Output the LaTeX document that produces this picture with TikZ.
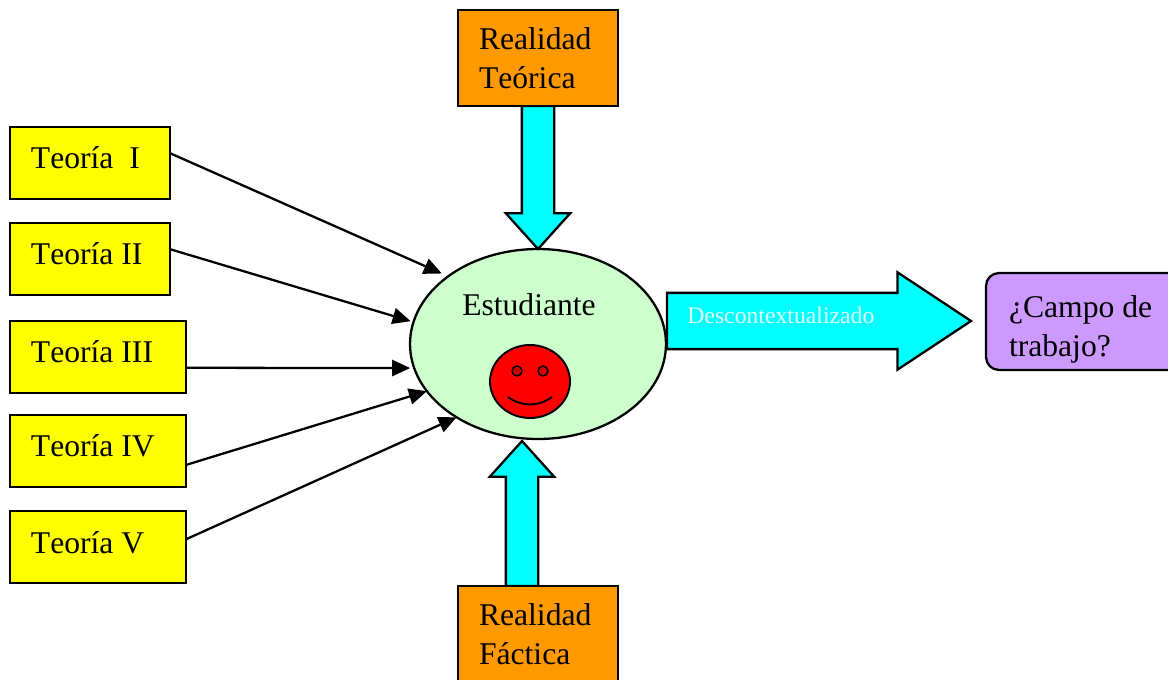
\documentclass[tikz,border=0pt]{standalone}
\usepackage{fontspec}
\setmainfont[Kerning=Off]{Liberation Serif}
\usetikzlibrary{shapes.geometric,shapes.arrows,arrows.meta}
\definecolor{naranja}{HTML}{FF9900}
\definecolor{verdeclaro}{HTML}{CCFFCC}
\definecolor{lila}{HTML}{CC99FF}
\definecolor{rojocara}{HTML}{FF0000}
\definecolor{rojoojo}{HTML}{CC0000}
\definecolor{amarillo}{HTML}{FFFF00}
\definecolor{celeste}{HTML}{00FFFF}
\definecolor{casiblanco}{HTML}{DDFFFF}
\tikzset{
    caja/.style={draw=black, line width=1.3pt, inner ysep=0pt, inner xsep=0.42cm, outer sep=0pt, align=flush left, anchor=north west, font=\fontsize{18}{22.2}\selectfont},
    teoria/.style={caja, fill=amarillo, text height=0.84cm, text depth=0.6cm},
    realidad/.style={caja, fill=naranja, text width=2.36cm, minimum height=1.92cm},
    bloque/.style={single arrow, draw=black, fill=celeste, line width=1.3pt, inner xsep=0pt, outer sep=0pt, anchor=tip, single arrow head indent=0pt},
    vertical/.style={bloque, inner ysep=0.3cm, single arrow head extend=0.32cm, single arrow tip angle=84},
    ojo/.style={circle, draw=black, fill=rojoojo, line width=0.8pt, minimum size=0.2cm, inner sep=0pt},
    flecha/.style={draw=black, line width=1.3pt, -{Triangle[length=0.36cm,width=0.32cm]}}
}
\begin{document}
\begin{tikzpicture}[x=0.02cm,y=0.02cm]
    \useasboundingbox (0,0) rectangle (1168,-679);
    \clip (0,0) rectangle (1168,-679);
    % estudiante
    \node [ellipse, draw=black, fill=verdeclaro, line width=1.3pt, minimum width=5.12cm, minimum height=3.8cm, inner sep=0pt, outer sep=0pt] (est) at (538,-344) {};
    \node [anchor=base, inner sep=0pt, font=\fontsize{18}{22.2}\selectfont] (nomest) at (529,-315) {Estudiante};
    \node [ellipse, draw=black, fill=rojocara, line width=1.1pt, minimum width=1.6cm, minimum height=1.46cm, inner sep=0pt] (cara) at (530,-381.5) {};
    \node [ojo] (ojoizq) at (517,-371) {};
    \node [ojo] (ojoder) at (543,-371) {};
    \coordinate (bocaizq) at (508,-397);
    \coordinate (bocader) at (552,-397);
    \draw [black, line width=1.1pt] (bocaizq) .. controls (522,-407) and (538,-407) .. (bocader);
    % realidad
    \node [vertical, minimum height=2.86cm, rotate=-90] (flechateo) at (est.north) {};
    \node [realidad] (teorica) at (458,-10) {Realidad\\Teórica};
    \node [vertical, minimum height=2.9cm, rotate=90] (flechafac) at (522,-441) {};
    \node [realidad] (factica) at (458,-586) {Realidad\\Fáctica};
    % teorias
    \node [teoria, text width=2.36cm] (teoI) at (10,-127) {Teoría\ \ I};
    \node [teoria, text width=2.36cm] (teoII) at (10,-223) {Teoría II};
    \node [teoria, text width=2.68cm] (teoIII) at (10,-321) {Teoría III};
    \node [teoria, text width=2.68cm] (teoIV) at (10,-415) {Teoría IV};
    \node [teoria, text width=2.68cm] (teoV) at (10,-511) {Teoría V};
    \draw [flecha, shorten >=0.14cm] (teoI.7) -- (est.143.8);
    \draw [flecha, shorten >=0.06cm] (teoII.7) -- (est.170.7);
    \draw [flecha, shorten >=0.08cm] (teoIII.-7.8) -- (est.191.4);
    \draw [flecha] (teoIV.-9) -- (est.203.6);
    \draw [flecha] (teoV.5.9) -- (est.222.4);
    % salida
    \node [bloque, inner ysep=0.54cm, minimum height=6.08cm, single arrow head extend=0.41cm, single arrow tip angle=67] (salida) at (971,-321) {};
    \node [anchor=base west, inner sep=0pt, text=casiblanco, font=\fontsize{13.5}{16}\selectfont] (desc) at (687,-323.5) {Descontextualizado};
    \node [caja, fill=lila, inner xsep=0.46cm, rounded corners=0.26cm, minimum width=4.2cm, minimum height=1.94cm, text width=3.28cm] (campo) at (986,-273) {\rule{0pt}{0.74cm}¿Campo de\\trabajo?};
\end{tikzpicture}
\end{document}
